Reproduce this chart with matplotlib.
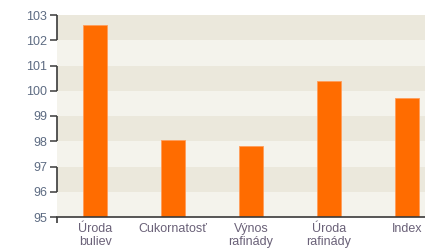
import matplotlib.pyplot as plt
import matplotlib.transforms as mtransforms

categories = ['Úroda\nbuliev', 'Cukornatosť', 'Výnos\nrafinády', 'Úroda\nrafinády', 'Index']
values = [102.6, 98.05, 97.8, 100.4, 99.7]
yticks = [95, 96, 97, 98, 99, 100, 101, 102, 103]

plt.rcParams['font.family'] = ['Liberation Sans', 'DejaVu Sans']

fig = plt.figure(figsize=(4.25, 2.5), dpi=100)
ax = fig.add_axes([0.134, 0.132, 0.913, 0.808])

# striped background bands
for i, lo in enumerate(yticks[:-1]):
    color = '#f4f3ec' if i % 2 == 0 else '#ebe8dc'
    ax.axhspan(lo, lo + 1, color=color, lw=0, zorder=0)

x = range(len(categories))
ax.bar(x, [v - 95 for v in values], bottom=95, width=0.31,
       color='#ff6c00', edgecolor='#ff9d5a', linewidth=0.6, zorder=2)

ax.set_xlim(-0.49, 4.49)
ax.set_ylim(95, 103)
ax.set_yticks(yticks)
ax.set_yticklabels([str(t) for t in yticks])
ax.set_xticks(list(x))
ax.set_xticklabels(categories, linespacing=1.15)

for s in ['top', 'right', 'left']:
    ax.spines[s].set_visible(False)
ax.spines['bottom'].set_color('#3a3a3a')
ax.spines['bottom'].set_linewidth(1.2)

ax.tick_params(axis='y', length=5, width=1.1, color='#3a3a3a', pad=2,
               labelsize=9, labelcolor='#5d6b82')
ax.tick_params(axis='x', length=0, pad=4, labelsize=9, labelcolor='#6a6178')

# bracket-style left spine segments
trans = mtransforms.blended_transform_factory(ax.transAxes, ax.transData)
for lo in [96, 98, 100, 102]:
    ax.plot([0, 0], [lo, lo + 1], color='#3a3a3a', lw=1.2, transform=trans,
            clip_on=False, solid_capstyle='butt')
ax.plot([0, 0], [95, 94.75], color='#3a3a3a', lw=1.2, transform=trans,
        clip_on=False, solid_capstyle='butt')

fig.savefig('out.png', dpi=100)
